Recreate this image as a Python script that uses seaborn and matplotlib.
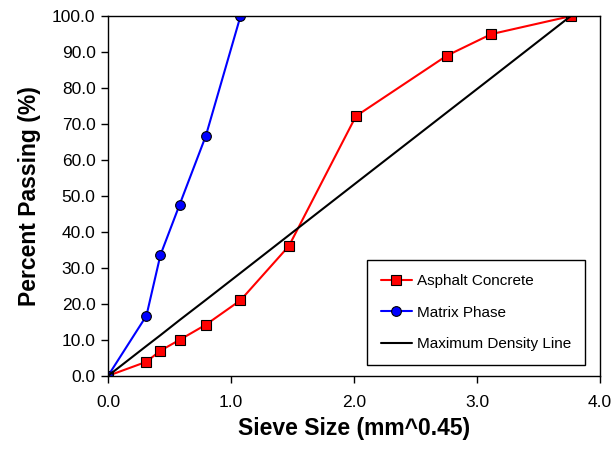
import matplotlib
matplotlib.use("Agg")
import matplotlib.pyplot as plt
import seaborn as sns
import pandas as pd
from matplotlib.ticker import FormatStrFormatter

sns.set_style("ticks")
plt.rcParams['font.family'] = ['Liberation Sans', 'DejaVu Sans']
plt.rcParams['text.color'] = 'black'
plt.rcParams['axes.labelcolor'] = 'black'
plt.rcParams['xtick.color'] = 'black'
plt.rcParams['ytick.color'] = 'black'

# Data
asphalt_x = [0.0, 0.312, 0.426, 0.582, 0.795, 1.077, 1.471, 2.016, 2.754, 3.116, 3.762]
asphalt_y = [0.0, 3.9, 7.0, 10.0, 14.2, 21.0, 36.1, 72.2, 89.0, 95.0, 100.0]
matrix_x = [0.0, 0.312, 0.426, 0.582, 0.795, 1.077]
matrix_y = [0.0, 16.7, 33.6, 47.6, 66.7, 100.0]
mdl_x = [0.0, 0.312, 0.426, 0.582, 0.795, 1.077, 1.471, 2.016, 2.754, 3.116, 3.762]
mdl_y = [0.0, 8.3, 11.3, 15.5, 21.1, 28.6, 39.1, 53.6, 73.2, 82.8, 100.0]

df_a = pd.DataFrame({"x": asphalt_x, "y": asphalt_y})
df_m = pd.DataFrame({"x": matrix_x, "y": matrix_y})
df_d = pd.DataFrame({"x": mdl_x, "y": mdl_y})

fig = plt.figure(figsize=(6.14, 4.49), dpi=100)
ax = fig.add_axes([0.176, 0.163, 0.801, 0.801])

sns.lineplot(data=df_a, x="x", y="y", ax=ax, color="red", lw=1.5, marker="s",
             markersize=7, markerfacecolor="red", markeredgecolor="black",
             markeredgewidth=0.8, label="Asphalt Concrete", sort=False)
sns.lineplot(data=df_m, x="x", y="y", ax=ax, color="blue", lw=1.5, marker="o",
             markersize=7, markerfacecolor="blue", markeredgecolor="black",
             markeredgewidth=0.8, label="Matrix Phase", sort=False)
sns.lineplot(data=df_d, x="x", y="y", ax=ax, color="black", lw=1.5,
             label="Maximum Density Line", sort=False)

ax.set_xlim(0, 4.0)
ax.set_ylim(0, 100)
ax.set_xticks([0, 1, 2, 3, 4])
ax.set_yticks(range(0, 101, 10))
ax.xaxis.set_major_formatter(FormatStrFormatter('%.1f'))
ax.yaxis.set_major_formatter(FormatStrFormatter('%.1f'))
ax.tick_params(axis='both', labelsize=12.5, direction='out', length=5, width=1,
               colors='black')
ax.tick_params(axis='x', pad=9)
ax.tick_params(axis='y', pad=4)
for s in ax.spines.values():
    s.set_color('black')
    s.set_linewidth(1)

ax.set_xlabel("Sieve Size (mm^0.45)", fontsize=16.5, fontweight='bold', labelpad=5)
ax.set_ylabel("Percent Passing (%)", fontsize=16.5, fontweight='bold', labelpad=8)

leg = ax.legend(loc='lower right', bbox_to_anchor=(0.97, 0.03), fontsize=11,
                frameon=True, fancybox=False, edgecolor='black', framealpha=1,
                labelspacing=1.15, handlelength=2.0, borderpad=0.9,
                handletextpad=0.35, borderaxespad=0)
leg.get_frame().set_linewidth(1)

fig.savefig("out.png", dpi=100)
